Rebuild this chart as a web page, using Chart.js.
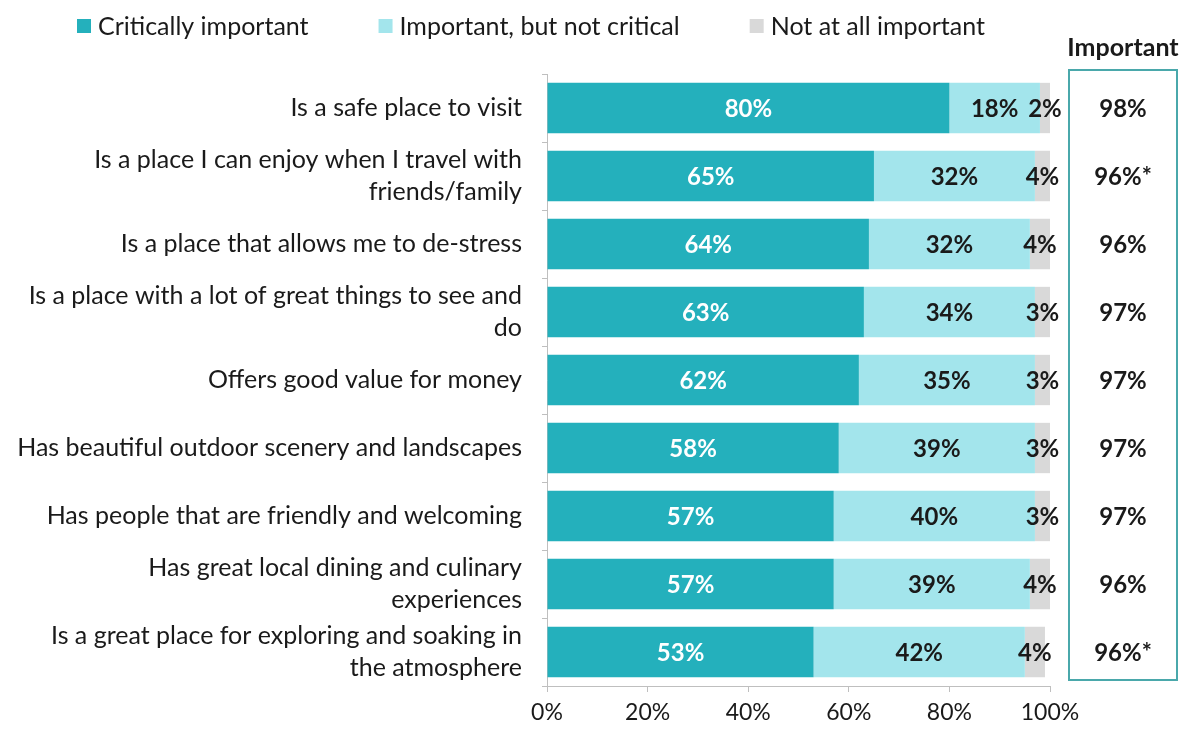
<!DOCTYPE html>
<html>
<head>
<meta charset="utf-8">
<script src="https://cdn.jsdelivr.net/npm/chart.js@4.4.1/dist/chart.umd.min.js"></script>
<style>
  html, body { margin: 0; padding: 0; background: #fff; }
  #wrap { width: 1191px; height: 736px; }
</style>
</head>
<body>
<div id="wrap"><canvas id="attributes"></canvas></div>
<script>
// Destination attributes – share rating each one as important

const categories = [
  "Is a safe place to visit",
  ["Is a place I can enjoy when I travel with", "friends/family"],
  "Is a place that allows me to de-stress",
  ["Is a place with a lot of great things to see and", "do"],
  "Offers good value for money",
  "Has beautiful outdoor scenery and landscapes",
  "Has people that are friendly and welcoming",
  ["Has great local dining and culinary", "experiences"],
  ["Is a great place for exploring and soaking in", "the atmosphere"],
];
const critical = [80, 65, 64, 63, 62, 58, 57, 57, 53];
const notCritical = [18, 32, 32, 34, 35, 39, 40, 39, 42];
const notImportant = [2, 4, 4, 3, 3, 3, 3, 4, 4];
const importantTotal = ["98%", "96%*", "96%", "97%", "97%", "97%", "97%", "96%", "96%*"];
const xTicks = [0, 20, 40, 60, 80, 100];

const seriesNames = ["Critically important", "Important, but not critical", "Not at all important"];
const seriesColors = ["#24b0bc", "#a3e5ec", "#d9d9d9"];
const labelColors = ["#ffffff", "#1a1a1a", "#1a1a1a"];

const FONT = "Lato, 'Open Sans', sans-serif";
Chart.defaults.font.family = FONT;
Chart.defaults.color = "#1a1a1a";

// percentage written in the middle of every segment
const segmentLabels = {
  id: "segmentLabels",
  afterDatasetsDraw(chart) {
    const ctx = chart.ctx;
    ctx.save();
    ctx.font = "bold 24px " + FONT;
    ctx.textAlign = "center";
    ctx.textBaseline = "middle";
    chart.data.datasets.forEach((ds, di) => {
      const meta = chart.getDatasetMeta(di);
      meta.data.forEach((bar, i) => {
        const right = Math.min(bar.x, chart.chartArea.right);
        ctx.fillStyle = labelColors[di];
        ctx.fillText(ds.data[i] + "%", (right + bar.base) / 2, bar.y + 1);
      });
    });
    ctx.restore();
  },
};

// legend row across the top
const topLegend = {
  id: "topLegend",
  afterDraw(chart) {
    const ctx = chart.ctx;
    ctx.save();
    ctx.font = "25px " + FONT;
    ctx.textBaseline = "middle";
    ctx.textAlign = "left";
    let x = 77;
    const y = 26;
    seriesNames.forEach((name, i) => {
      ctx.fillStyle = seriesColors[i];
      ctx.fillRect(x, y - 7, 14, 14);
      ctx.fillStyle = "#1a1a1a";
      ctx.fillText(name, x + 21, y + 1);
      x += 21 + ctx.measureText(name).width + 70;
    });
    ctx.restore();
  },
};

// boxed "Important" column on the right
const importantColumn = {
  id: "importantColumn",
  afterDraw(chart) {
    const ctx = chart.ctx;
    const yScale = chart.scales.y;
    const cx = 1123;
    ctx.save();
    ctx.strokeStyle = "#4aa8ab";
    ctx.lineWidth = 2;
    ctx.strokeRect(1069, 70, 108, 610);
    ctx.fillStyle = "#1a1a1a";
    ctx.textAlign = "center";
    ctx.textBaseline = "middle";
    ctx.font = "bold 25px " + FONT;
    ctx.fillText("Important", cx, 48);
    ctx.font = "bold 24px " + FONT;
    importantTotal.forEach((v, i) => {
      ctx.fillText(v, cx, yScale.getPixelForValue(i) + 1);
    });
    ctx.restore();
  },
};

new Chart(document.getElementById("attributes"), {
  type: "bar",
  data: {
    labels: categories,
    datasets: [
      { label: seriesNames[0], data: critical, backgroundColor: seriesColors[0] },
      { label: seriesNames[1], data: notCritical, backgroundColor: seriesColors[1] },
      { label: seriesNames[2], data: notImportant, backgroundColor: seriesColors[2] },
    ],
  },
  options: {
    indexAxis: "y",
    responsive: true,
    maintainAspectRatio: false,
    animation: false,
    events: [],
    layout: { padding: { top: 74, right: 141, left: 0, bottom: 0 } },
    datasets: {
      bar: { barPercentage: 0.74, categoryPercentage: 1.0, borderWidth: 0 },
    },
    scales: {
      x: {
        stacked: true,
        min: 0,
        max: 100,
        afterBuildTicks(scale) {
          scale.ticks = xTicks.map((v) => ({ value: v }));
        },
        afterFit(scale) {
          scale.height = 50;
        },
        ticks: {
          callback: (v) => v + "%",
          font: { size: 23 },
          padding: 7,
          color: "#1a1a1a",
          maxRotation: 0,
        },
        grid: { drawOnChartArea: false, tickLength: 6, color: "#bfbfbf" },
        border: { color: "#bfbfbf", width: 1 },
      },
      y: {
        stacked: true,
        afterFit(scale) {
          scale.width = 547;
        },
        ticks: {
          font: { size: 25, lineHeight: 1.3 },
          padding: 20,
          color: "#1a1a1a",
        },
        grid: { drawOnChartArea: false, tickLength: 5, color: "#bfbfbf", offset: true },
        border: { color: "#bfbfbf", width: 1 },
      },
    },
    plugins: {
      legend: { display: false },
      tooltip: { enabled: false },
    },
  },
  plugins: [segmentLabels, topLegend, importantColumn],
});
</script>
</body>
</html>
